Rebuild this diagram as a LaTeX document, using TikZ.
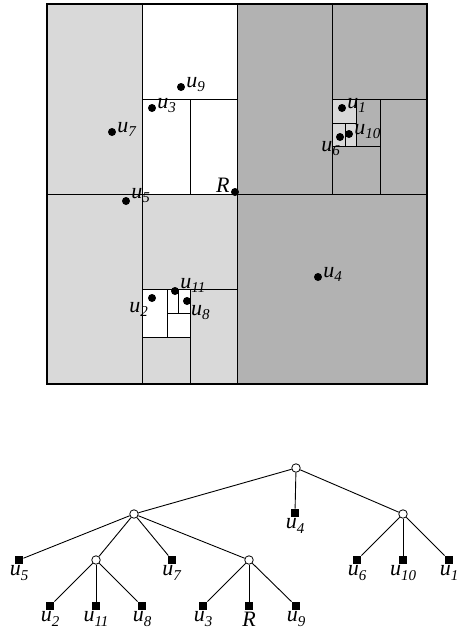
\documentclass[tikz,border=0pt]{standalone}
\usepackage{fontspec}
\setmainfont{Liberation Serif}
\usetikzlibrary{positioning}
\definecolor{lightcell}{gray}{0.85}
\definecolor{darkcell}{gray}{0.70}
\newcommand{\ulab}[1]{\textit{u}\raisebox{-0.45ex}{\fontsize{15}{15}\selectfont\textit{#1}}}

\begin{document}
\begin{tikzpicture}[
	x=1pt, y=-1pt,
	% Styles for the subdivision
	regionline/.style={line width=1pt},
	pointdot/.style={circle, fill=black, inner sep=0pt, minimum size=8pt},
	maplabel/.style={font=\fontsize{22}{26}\selectfont, inner sep=1pt},
	rlab/.style={label={[maplabel, anchor=base west]east:#1}},
	% Styles for the tree
	innernode/.style={circle, draw=black, fill=white, inner sep=0pt, minimum size=8.5pt, line width=0.8pt},
	leafbox/.style={rectangle, fill=black, inner sep=0pt, minimum size=8.5pt},
	blab/.style={label={[maplabel]below:#1}},
	treeedge/.style={line width=0.9pt}
	]
	\useasboundingbox (0,0) rectangle (463,630);
	
	% ==========================================
	% SUBDIVISION
	% ==========================================
	% Shaded cells
	\fill[lightcell] (47,4) rectangle (237,384);
	\fill[darkcell] (237,4) rectangle (427,384);
	\fill[white] (142,4) rectangle (237,194);
	\fill[white] (142,289) rectangle (190,337);
	\fill[lightcell] (332,99) rectangle (356,146);
	
	% Cell boundaries
	\draw[regionline] (47,194) -- (427,194);
	\draw[regionline] (237,4) -- (237,384);
	\draw[regionline] (142,4) -- (142,384);
	\draw[regionline] (142,99) -- (237,99);
	\draw[regionline] (190,99) -- (190,194);
	\draw[regionline] (142,289) -- (237,289);
	\draw[regionline] (190,289) -- (190,384);
	\draw[regionline] (142,337) -- (190,337);
	\draw[regionline] (167,289) -- (167,337);
	\draw[regionline] (167,313) -- (190,313);
	\draw[regionline] (178,289) -- (178,313);
	\draw[regionline] (332,4) -- (332,194);
	\draw[regionline] (332,99) -- (427,99);
	\draw[regionline] (380,99) -- (380,194);
	\draw[regionline] (332,146) -- (380,146);
	\draw[regionline] (356,99) -- (356,146);
	\draw[regionline] (332,123) -- (356,123);
	\draw[regionline] (345,123) -- (345,146);
	\draw[line width=1.3pt] (47,4) rectangle (427,384);
	
	% Points
	\node[pointdot, rlab=\ulab{9}] (p9) at (181,87) {};
	\node[pointdot, rlab=\ulab{3}] (p3) at (152,108) {};
	\node[pointdot, rlab=\ulab{7}] (p7) at (112,132) {};
	\node[pointdot, label={[maplabel, anchor=base east]west:\textit{R}}] (pR) at (235,192) {};
	\node[pointdot, label={[maplabel, anchor=base west, yshift=3pt]east:\ulab{5}}] (p5) at (126,201) {};
	\node[pointdot, label={[maplabel, anchor=north east]south west:\ulab{2}}] (p2) at (152,298) {};
	\node[pointdot, label={[maplabel, anchor=base west, yshift=3pt]east:\ulab{11}}] (p11) at (175,291) {};
	\node[pointdot, label={[maplabel, anchor=north west]south east:\ulab{8}}] (p8) at (187,301) {};
	\node[pointdot, rlab=\ulab{1}] (p1) at (342,108) {};
	\node[pointdot, rlab=\ulab{10}] (p10) at (349,134) {};
	\node[pointdot, label={[maplabel, anchor=north east, xshift=4pt]south west:\ulab{6}}] (p6) at (340,137) {};
	\node[pointdot, rlab=\ulab{4}] (p4) at (318,277) {};
	
	% ==========================================
	% TREE
	% ==========================================
	\node[innernode] (root) at (296,468) {};
	\node[innernode] (nl) at (134,514) {};
	\node[innernode] (nr) at (403,514) {};
	\node[innernode] (nll) at (96,560) {};
	\node[innernode] (nlr) at (249,560) {};
	
	\node[leafbox, blab=\ulab{4}] (t4) at (295,513) {};
	\node[leafbox, blab=\ulab{5}] (t5) at (19,560) {};
	\node[leafbox, blab=\ulab{7}] (t7) at (172,560) {};
	\node[leafbox, blab=\ulab{6}] (t6) at (357,560) {};
	\node[leafbox, blab=\ulab{10}] (t10) at (403,560) {};
	\node[leafbox, blab=\ulab{1}] (t1) at (449,560) {};
	\node[leafbox, blab=\ulab{2}] (t2) at (50,606) {};
	\node[leafbox, blab=\ulab{11}] (t11) at (96,606) {};
	\node[leafbox, blab=\ulab{8}] (t8) at (142,606) {};
	\node[leafbox, blab=\ulab{3}] (t3) at (203,606) {};
	\node[leafbox, blab=\textit{R}] (tR) at (249,606) {};
	\node[leafbox, blab=\ulab{9}] (t9) at (296,606) {};
	
	\foreach \a/\b in {root/nl, root/t4, root/nr, nl/t5, nl/nll, nl/t7, nl/nlr,
		nll/t2, nll/t11, nll/t8, nlr/t3, nlr/tR, nlr/t9, nr/t6, nr/t10, nr/t1}
		\draw[treeedge] (\a) -- (\b);
	
\end{tikzpicture}
\end{document}
